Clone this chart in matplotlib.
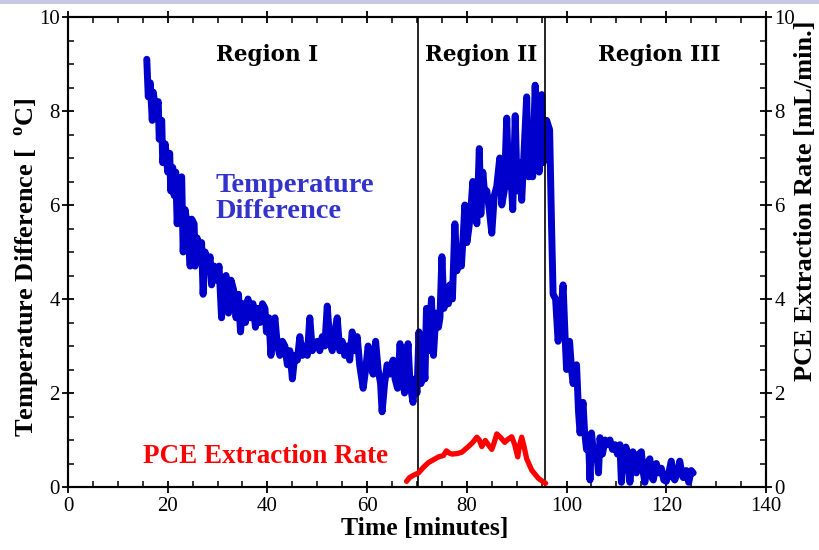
import matplotlib
matplotlib.use("Agg")
import matplotlib.pyplot as plt
from matplotlib.patches import Rectangle
from matplotlib.ticker import MultipleLocator

# Temperature difference (deg C) vs time (minutes)
temp_time = [
    15.8, 16.1, 16.5, 16.9, 17.1, 17.6, 18.1, 18.3, 18.8, 19.0, 19.5, 20.0,
    20.4, 20.6, 21.0, 21.3, 21.6, 21.9, 22.3, 22.8, 23.1, 23.5, 24.0, 24.5,
    24.8, 25.3, 25.5, 25.9, 26.4, 26.8, 27.1, 27.5, 28.0, 28.5, 28.8, 29.3,
    29.8, 30.3, 30.8, 31.2, 31.7, 32.2, 32.7, 33.2, 33.7, 34.2, 34.6, 35.1,
    35.6, 36.1, 36.6, 37.1, 37.6, 38.0, 38.5, 39.0, 39.5, 39.8, 40.3, 40.7,
    41.1, 41.5, 42.0, 42.5, 43.0, 43.5, 44.0, 44.5, 45.0, 45.5, 46.0, 46.5,
    47.0, 47.5, 48.0, 48.5, 49.0, 49.5, 50.0, 50.5, 51.0, 51.5, 52.0, 52.5,
    53.0, 53.5, 54.0, 54.5, 55.0, 55.5, 56.0, 56.5, 57.0, 57.5, 58.0, 58.5,
    59.2, 59.7, 60.2, 60.7, 61.2, 61.7, 62.2, 62.7, 63.0, 63.5, 64.0, 64.5,
    65.2, 65.6, 66.1, 66.6, 67.0, 67.5, 68.2, 68.6, 69.2, 69.6, 70.0, 70.4,
    70.8, 71.2, 71.6, 71.9, 72.3, 72.9, 73.3, 73.8, 74.3, 74.6, 75.0, 75.4,
    75.9, 76.3, 76.6, 77.1, 77.6, 78.0, 78.5, 78.9, 79.3, 79.6, 80.0, 80.4,
    80.8, 81.2, 81.6, 82.0, 82.5, 82.8, 83.2, 83.6, 84.0, 84.5, 85.0, 85.5,
    86.0, 86.6, 87.0, 87.5, 88.0, 88.4, 88.8, 89.2, 89.7, 90.1, 90.6, 91.0,
    91.4, 92.0, 92.4, 92.8, 93.2, 93.7, 94.1, 94.5, 95.0, 95.3, 95.7, 96.0,
    96.6, 96.8, 97.0, 97.3, 97.8, 98.3, 98.8, 99.3, 99.7, 100.0, 100.6, 101.0,
    101.3, 102.0, 102.4, 102.7, 103.3, 103.6, 104.0, 104.4, 104.7, 105.0, 105.5, 106.0,
    106.4, 106.7, 107.2, 107.7, 108.2, 108.7, 109.2, 109.7, 110.2, 110.7, 111.0, 111.4,
    111.9, 112.3, 112.7, 113.3, 113.7, 114.0, 114.5, 115.0, 115.4, 115.7, 116.2, 116.7,
    117.1, 117.4, 118.0, 118.5, 119.0, 119.5, 120.0, 120.5, 121.0, 121.4, 121.7, 122.2,
    122.7, 123.1, 123.4, 124.0, 124.5, 125.0, 125.4,
]
temp_diff = [
    9.1, 8.3, 8.6, 7.8, 8.4, 8.0, 8.2, 7.4, 7.8, 6.9, 7.3, 6.7,
    7.1, 6.3, 6.8, 6.2, 6.7, 5.6, 6.5, 6.6, 5.0, 5.9, 5.5, 4.7,
    5.7, 5.6, 4.7, 5.3, 4.8, 5.2, 4.1, 5.0, 4.6, 4.9, 4.3, 4.7,
    4.4, 4.7, 3.6, 4.3, 4.5, 3.7, 4.4, 4.2, 3.6, 4.1, 3.3, 3.9,
    3.5, 4.0, 3.6, 3.9, 3.4, 3.8, 3.5, 3.9, 3.8, 3.3, 3.6, 2.8,
    3.3, 3.6, 3.0, 2.8, 3.1, 3.0, 2.6, 2.9, 2.3, 2.8, 2.7, 3.2,
    2.8, 3.0, 2.8, 3.6, 2.9, 3.0, 3.1, 2.9, 3.2, 3.0, 3.85, 3.1,
    2.9, 3.3, 3.6, 2.9, 3.1, 2.8, 3.0, 2.7, 3.3, 2.9, 3.2, 2.6,
    2.1, 2.5, 3.0, 2.6, 2.4, 3.1, 2.5, 2.2, 1.6, 2.2, 2.6, 2.4,
    2.7, 2.3, 2.1, 3.05, 2.4, 2.0, 3.05, 2.2, 1.8, 2.3, 2.0, 3.3,
    2.2, 2.7, 2.3, 3.8, 2.9, 4.0, 2.8, 3.7, 3.4, 3.6, 4.9, 3.8,
    4.2, 3.9, 4.3, 4.0, 5.6, 4.6, 5.0, 4.7, 5.4, 6.0, 5.2, 5.5,
    5.9, 6.5, 6.0, 5.6, 7.2, 5.8, 6.7, 6.2, 6.3, 5.9, 5.4, 6.2,
    6.4, 7.0, 6.0, 6.3, 7.85, 6.4, 6.7, 5.9, 7.9, 6.3, 6.9, 6.1,
    7.0, 8.3, 6.6, 7.3, 6.6, 8.55, 7.2, 6.7, 8.35, 6.9, 7.4, 7.8,
    7.6, 6.5, 5.5, 4.1, 4.0, 3.1, 3.6, 4.3, 3.2, 2.5, 3.1, 2.5,
    2.2, 2.6, 1.6, 1.15, 1.8, 1.2, 0.8, 1.0, 0.15, 1.15, 0.6, 0.8,
    0.3, 1.05, 0.7, 1.0, 0.9, 1.0, 0.8, 0.9, 0.7, 0.9, 0.1, 0.6,
    0.85, 0.7, 0.1, 0.75, 0.5, 0.3, 0.7, 0.75, 0.3, 0.1, 0.5, 0.6,
    0.2, 0.15, 0.5, 0.3, 0.4, 0.15, 0.12, 0.3, 0.55, 0.2, 0.15, 0.3,
    0.55, 0.3, 0.2, 0.35, 0.1, 0.35, 0.3,
]

# PCE extraction rate (mL/min)
pce_time = [
    67.9, 68.5, 69.3, 70.3, 71.3, 72.3, 73.3, 74.3, 75.3, 75.9, 76.5, 77.0,
    78.0, 79.0, 80.3, 81.2, 82.0, 82.5, 83.0, 83.7, 84.3, 85.0, 85.5, 86.0,
    86.8, 87.6, 88.3, 89.0, 89.6, 90.2, 90.6, 91.0, 91.5, 92.0, 93.0, 94.3,
    95.3, 95.8,
]
pce_rate = [
    0.12, 0.2, 0.25, 0.3, 0.42, 0.52, 0.58, 0.64, 0.67, 0.77, 0.72, 0.7,
    0.71, 0.74, 0.86, 0.95, 1.06, 1.0, 0.86, 0.99, 0.9, 0.8, 0.95, 1.13,
    1.05, 0.95, 1.02, 1.07, 0.9, 0.64, 0.9, 1.06, 0.85, 0.6, 0.36, 0.19,
    0.11, 0.08,
]

region_bounds = [70.2, 95.7]
region_names = ["Region I", "Region II", "Region III"]
region_x = [40, 82.8, 118.5]

SERIF = "Liberation Serif"
BLUE = "#0000cc"

plt.rcParams["mathtext.fontset"] = "custom"
plt.rcParams["mathtext.rm"] = SERIF
plt.rcParams["mathtext.bf"] = SERIF + ":bold"

fig = plt.figure(figsize=(8.2, 5.5), dpi=100)
ax = fig.add_axes([68 / 820, 1 - 487 / 550, (766 - 68) / 820, (487 - 17) / 550])
ax2 = ax.twinx()

fig.patches.append(Rectangle((0, 1 - 4 / 550), 1, 4 / 550, transform=fig.transFigure,
                             facecolor="#c9c9e3", edgecolor="none", zorder=0))

ax.plot(temp_time, temp_diff, color=BLUE, lw=5.0, solid_joinstyle="round",
        solid_capstyle="round", zorder=3)
ax2.plot(pce_time, pce_rate, color="#ff0000", lw=3.8, solid_joinstyle="round",
         solid_capstyle="round", zorder=3)

for xb in region_bounds:
    ax.plot([xb, xb], [0, 10], color="black", lw=1.2, zorder=4)

for name, xr in zip(region_names, region_x):
    ax.text(xr, 9.2, name, ha="center", va="center", fontsize=15.5,
            fontweight="bold", family="DejaVu Serif", color="black")

ax.text(29.5, 6.13, "Temperature\nDifference", ha="left", va="center",
        fontsize=20.5, fontweight="bold", family=SERIF, color="#3333cc",
        linespacing=1.05)
ax.text(15.0, 0.64, "PCE Extraction Rate", ha="left", va="center",
        fontsize=19.5, fontweight="bold", family=SERIF, color="#ff0000")

ax.set_xlim(0, 140)
ax.set_ylim(0, 10)
ax2.set_ylim(0, 10)

ax.xaxis.set_major_locator(MultipleLocator(20))
ax.xaxis.set_minor_locator(MultipleLocator(5))
for a in (ax, ax2):
    a.yaxis.set_major_locator(MultipleLocator(2))
    a.yaxis.set_minor_locator(MultipleLocator(0.5))
    for s in a.spines.values():
        s.set_linewidth(1.5)

ax.tick_params(which="major", direction="inout", length=8, width=1.3,
               top=True, labelsize=15, pad=2)
ax.tick_params(axis="x", which="major", pad=3)
ax.tick_params(which="minor", direction="in", length=4, width=1.1, top=True)
ax.tick_params(axis="y", which="both", right=False)
ax2.tick_params(which="major", direction="inout", length=8, width=1.3,
                labelsize=15, pad=2)
ax2.tick_params(which="minor", direction="in", length=4, width=1.1)

for lab in ax.get_xticklabels() + ax.get_yticklabels() + ax2.get_yticklabels():
    lab.set_family(SERIF)

ax.set_xlabel("Time [minutes]", fontsize=18.5, fontweight="bold", family=SERIF)
ax.xaxis.set_label_coords(0.511, -0.064)
ax.set_ylabel(r"Temperature Difference [  $^{\mathbf{o}}$C]", fontsize=19,
              fontweight="bold", family=SERIF)
ax.yaxis.set_label_coords(-0.037, 0.468)
ax2.set_ylabel("PCE Extraction Rate [mL/min.]", fontsize=19, fontweight="bold",
               family=SERIF)
ax2.yaxis.set_label_coords(1.040, 0.61)

fig.savefig("out.png", dpi=100)
